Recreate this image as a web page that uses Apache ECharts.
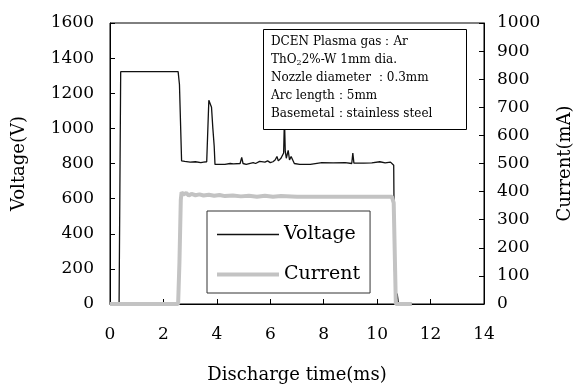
<!DOCTYPE html>
<html>
<head>
<meta charset="utf-8">
<script src="https://cdn.jsdelivr.net/npm/echarts@6/dist/echarts.min.js"></script>
<style>
  html, body { margin: 0; padding: 0; background: #fff; }
  #chart { width: 587px; height: 387px; }
</style>
</head>
<body>
<div id="chart"></div>
<script>
// time (ms) and voltage (V)
const voltageTime = [0, 0.34, 0.4, 2.55, 2.6, 2.68, 2.8, 3.0, 3.2, 3.4, 3.5, 3.62, 3.66, 3.7, 3.72, 3.76, 3.8, 3.85, 3.9, 3.93,
  4.0, 4.3, 4.5, 4.55, 4.62, 4.87, 4.93, 4.98, 5.1, 5.36, 5.45, 5.6, 5.8, 5.9, 6.0, 6.1, 6.18, 6.25, 6.3, 6.4, 6.45, 6.5,
  6.53, 6.56, 6.6, 6.67, 6.72, 6.78, 6.85, 6.9, 7.1, 7.5, 7.93, 8.0, 8.35, 8.4, 8.8, 8.85, 9.05, 9.09, 9.13, 9.5, 9.8,
  10.1, 10.15, 10.3, 10.5, 10.55, 10.62, 10.65, 10.7, 10.75, 10.8, 11.3];
const voltageValues = [0, 0, 1323, 1323, 1250, 815, 812, 808, 810, 805, 808, 810, 800, 1160, 1165, 1150, 1120, 1000, 900, 795,
  790, 795, 800, 795, 798, 800, 835, 800, 795, 805, 800, 812, 808, 815, 805, 810, 820, 840, 815, 830, 825, 860,
  1060, 870, 830, 875, 820, 840, 835, 800, 795, 795, 805, 798, 803, 800, 805, 800, 800, 860, 802, 802, 803,
  810, 803, 803, 808, 800, 790, 200, 0, 60, 0, 0];

// time (ms) and current (mA)
const currentTime = [0, 2.55, 2.6, 2.65, 2.68, 2.75, 2.85, 2.95, 3.05, 3.2, 3.35, 3.5, 3.7, 3.9, 4.1, 4.3, 4.6, 4.9,
  5.2, 5.5, 5.8, 6.1, 6.4, 7.0, 8.0, 9.0, 10.0, 10.55, 10.62, 10.7, 11.3];
const currentValues = [0, 0, 150, 370, 398, 390, 395, 386, 392, 387, 390, 386, 389, 385, 388, 384, 386, 383,
  385, 382, 385, 382, 384, 382, 382, 382, 382, 382, 360, 0, 0];

const voltageTicks = { min: 0, max: 1600, interval: 200 };
const currentTicks = { min: 0, max: 1000, interval: 100 };
const timeTicks = { min: 0, max: 14, interval: 2 };

const noteLines = [
  'DCEN Plasma gas：Ar',
  '{n|ThO}{s|2}{n|2%-W 1mm dia.}',
  'Nozzle diameter ：0.3mm',
  'Arc length：5mm',
  'Basemetal：stainless steel'
];

const serif = '"DejaVu Serif", "Liberation Serif", serif';
const chart = echarts.init(document.getElementById('chart'));

const pair = (xs, ys) => xs.map((x, i) => [x, ys[i]]);
const plain = v => String(v);

chart.setOption({
  animation: false,
  backgroundColor: '#fff',
  textStyle: { fontFamily: serif, color: '#000' },
  grid: {
    left: 110, right: 103, top: 23, bottom: 83,
    outerBoundsMode: 'none',
    show: true, borderColor: '#000', borderWidth: 1
  },
  legend: {
    orient: 'vertical',
    left: 207, top: 211,
    padding: [14, 10, 9, 8],
    itemWidth: 62, itemHeight: 14, itemGap: 21,
    borderColor: '#333', borderWidth: 1, backgroundColor: '#fff',
    itemStyle: { opacity: 0 },
    textStyle: { fontFamily: serif, fontSize: 19, color: '#000' },
    data: [
      { name: 'Voltage', lineStyle: { width: 1.3, color: '#111' } },
      { name: 'Current', lineStyle: { width: 4, color: '#c3c3c3' } }
    ]
  },
  xAxis: {
    type: 'value', ...timeTicks,
    name: 'Discharge time(ms)', nameLocation: 'middle', nameGap: 62,
    nameTextStyle: { fontFamily: serif, fontSize: 18, color: '#000' },
    axisLine: { lineStyle: { color: '#000', width: 1 } },
    axisTick: { inside: true, length: 5, lineStyle: { color: '#000' } },
    axisLabel: { fontFamily: serif, fontSize: 17, color: '#000', margin: 22, formatter: plain },
    splitLine: { show: false }
  },
  yAxis: [{
    type: 'value', ...voltageTicks,
    name: 'Voltage(V)', nameLocation: 'middle', nameGap: 82, nameRotate: 90,
    nameTextStyle: { fontFamily: serif, fontSize: 18, color: '#000' },
    axisLine: { show: true, lineStyle: { color: '#000', width: 1 } },
    axisTick: { show: true, inside: true, length: 5, lineStyle: { color: '#000' } },
    axisLabel: { fontFamily: serif, fontSize: 17, color: '#000', margin: 16, formatter: plain },
    splitLine: { show: false }
  }, {
    type: 'value', ...currentTicks, position: 'right',
    name: 'Current(mA)', nameLocation: 'middle', nameGap: 72, nameRotate: 90,
    nameTextStyle: { fontFamily: serif, fontSize: 18, color: '#000' },
    axisLine: { show: true, lineStyle: { color: '#000', width: 1 } },
    axisTick: { show: true, inside: true, length: 5, lineStyle: { color: '#000' } },
    axisLabel: { fontFamily: serif, fontSize: 17, color: '#000', margin: 13, formatter: plain },
    splitLine: { show: false }
  }],
  graphic: [{
    type: 'rect', left: 263, top: 29,
    shape: { width: 203, height: 100 },
    style: { fill: '#fff', stroke: '#000', lineWidth: 1 },
    z: 10
  }].concat(noteLines.map((t, i) => ({
    type: 'text', left: 271, top: 36 + i * 18, z: 11,
    style: {
      text: t, fill: '#000', font: '12px ' + serif,
      rich: {
        n: { fontSize: 12, fontFamily: serif },
        s: { fontSize: 8, fontFamily: serif, verticalAlign: 'bottom', padding: [6, 0, 0, 0] }
      }
    }
  }))),
  series: [{
    name: 'Voltage', type: 'line', yAxisIndex: 0,
    symbol: 'none', z: 2,
    lineStyle: { color: '#111', width: 1.3 },
    itemStyle: { color: '#111' },
    data: pair(voltageTime, voltageValues)
  }, {
    name: 'Current', type: 'line', yAxisIndex: 1,
    symbol: 'none', z: 3,
    lineStyle: { color: '#c3c3c3', width: 4 },
    itemStyle: { color: '#c3c3c3' },
    data: pair(currentTime, currentValues)
  }]
});
</script>
</body>
</html>
